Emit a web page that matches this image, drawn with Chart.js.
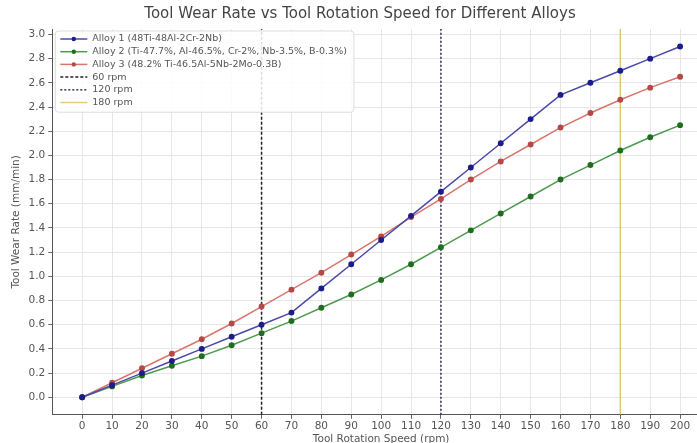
<!DOCTYPE html>
<html>
<head>
<meta charset="utf-8">
<script src="https://cdn.jsdelivr.net/npm/chart.js@4/dist/chart.umd.min.js"></script>
<style>
  html, body { margin: 0; padding: 0; background: #fff; overflow: hidden; }
  #wrap { width: 720px; height: 443px; }
</style>
</head>
<body>
<div id="wrap"><canvas id="wearChart"></canvas></div>
<script>
// data
const rpm = [0, 10, 20, 30, 40, 50, 60, 70, 80, 90, 100, 110, 120, 130, 140, 150, 160, 170, 180, 190, 200];
const alloy1 = [0, 0.1, 0.2, 0.3, 0.4, 0.5, 0.6, 0.7, 0.9, 1.1, 1.3, 1.5, 1.7, 1.9, 2.1, 2.3, 2.5, 2.6, 2.7, 2.8, 2.9];
const alloy2 = [0, 0.09, 0.18, 0.26, 0.34, 0.43, 0.53, 0.63, 0.74, 0.85, 0.97, 1.1, 1.24, 1.38, 1.52, 1.66, 1.8, 1.92, 2.04, 2.15, 2.25];
const alloy3 = [0, 0.12, 0.24, 0.36, 0.48, 0.61, 0.75, 0.89, 1.03, 1.18, 1.33, 1.49, 1.64, 1.8, 1.95, 2.09, 2.23, 2.35, 2.46, 2.56, 2.65];
const refSpeeds = [60, 120, 180];
const xTicks = [0, 10, 20, 30, 40, 50, 60, 70, 80, 90, 100, 110, 120, 130, 140, 150, 160, 170, 180, 190, 200];
const yTicks = [0, 0.2, 0.4, 0.6, 0.8, 1.0, 1.2, 1.4, 1.6, 1.8, 2.0, 2.2, 2.4, 2.6, 2.8, 3.0];
const xRange = [-10, 210];
const yRange = [-0.145, 3.045];

const pts = vals => rpm.map((x, i) => ({ x, y: vals[i] }));
const vline = x => [{ x, y: yRange[0] }, { x, y: yRange[1] }];

const font = 'DejaVu Sans';

// legend drawn inside the plot, top left (matplotlib style)
const innerLegend = {
  id: 'innerLegend',
  afterDraw(chart) {
    const ctx = chart.ctx;
    const area = chart.chartArea;
    const sets = chart.data.datasets;
    const x0 = area.left + 3, y0 = area.top + 2;
    const rowH = 12.7;
    ctx.save();
    ctx.font = '9.5px "' + font + '"';
    let w = 0;
    sets.forEach(d => { w = Math.max(w, ctx.measureText(d.label).width); });
    const boxW = w + 44, boxH = sets.length * rowH + 5;
    ctx.fillStyle = 'rgba(255,255,255,0.85)';
    ctx.strokeStyle = '#dddddd';
    ctx.lineWidth = 1;
    ctx.beginPath();
    ctx.roundRect(x0, y0, boxW, boxH, 3);
    ctx.fill();
    ctx.stroke();
    sets.forEach((d, i) => {
      const cy = y0 + 8 + i * rowH;
      ctx.strokeStyle = d.borderColor;
      ctx.lineWidth = d.borderWidth;
      ctx.setLineDash(d.borderDash || []);
      ctx.beginPath();
      ctx.moveTo(x0 + 5, cy);
      ctx.lineTo(x0 + 32, cy);
      ctx.stroke();
      ctx.setLineDash([]);
      if (d.pointRadius > 0) {
        ctx.fillStyle = d.pointBackgroundColor;
        ctx.beginPath();
        ctx.arc(x0 + 18.5, cy, d.pointRadius, 0, Math.PI * 2);
        ctx.fill();
      }
      ctx.fillStyle = '#555555';
      ctx.textBaseline = 'middle';
      ctx.fillText(d.label, x0 + 37, cy);
    });
    ctx.restore();
  }
};

const alloyStyle = (line, marker) => ({
  borderColor: line,
  backgroundColor: marker,
  pointBackgroundColor: marker,
  pointBorderColor: marker,
  pointRadius: 2.2,
  borderWidth: 1.5,
  tension: 0
});

const refStyle = (color, dash, width) => ({
  borderColor: color,
  backgroundColor: color,
  borderDash: dash,
  borderWidth: width,
  pointRadius: 0,
  tension: 0
});

new Chart(document.getElementById('wearChart'), {
  type: 'line',
  data: {
    datasets: [
      { label: 'Alloy 1 (48Ti-48Al-2Cr-2Nb)', data: pts(alloy1), ...alloyStyle('#4a4aa8', '#1c1c8a') },
      { label: 'Alloy 2 (Ti-47.7%, Al-46.5%, Cr-2%, Nb-3.5%, B-0.3%)', data: pts(alloy2), ...alloyStyle('#4f9a4f', '#1f6e1f') },
      { label: 'Alloy 3 (48.2% Ti-46.5Al-5Nb-2Mo-0.3B)', data: pts(alloy3), ...alloyStyle('#d8776c', '#b54848') },
      { label: refSpeeds[0] + ' rpm', data: vline(refSpeeds[0]), ...refStyle('#222222', [3, 2], 1.5) },
      { label: refSpeeds[1] + ' rpm', data: vline(refSpeeds[1]), ...refStyle('#333344', [2, 2], 1.5) },
      { label: refSpeeds[2] + ' rpm', data: vline(refSpeeds[2]), ...refStyle('rgba(225,190,90,0.8)', [], 1.5) }
    ]
  },
  options: {
    responsive: true,
    maintainAspectRatio: false,
    animation: false,
    layout: { padding: { left: 10, right: 10, top: 0, bottom: -3 } },
    plugins: {
      legend: { display: false },
      tooltip: { enabled: false },
      title: {
        display: true,
        text: 'Tool Wear Rate vs Tool Rotation Speed for Different Alloys',
        color: '#444444',
        font: { family: font, size: 15, weight: 'normal' },
        padding: { top: 5, bottom: 6 }
      }
    },
    scales: {
      x: {
        type: 'linear',
        min: xRange[0],
        max: xRange[1],
        afterBuildTicks: s => { s.ticks = xTicks.map(v => ({ value: v })); },
        ticks: { color: '#555555', font: { family: font, size: 10.5 }, padding: 1, maxRotation: 0, autoSkip: false },
        grid: { color: '#e6e6e6', tickColor: '#666666', tickLength: 4 },
        border: { color: '#555555', width: 1 },
        title: {
          display: true,
          text: 'Tool Rotation Speed (rpm)',
          color: '#555555',
          font: { family: font, size: 10.5 },
          padding: { top: 0, bottom: 0 }
        }
      },
      y: {
        min: yRange[0],
        max: yRange[1],
        afterBuildTicks: s => { s.ticks = yTicks.map(v => ({ value: v })); },
        ticks: { color: '#555555', font: { family: font, size: 10.5 }, padding: 3, callback: v => v.toFixed(1) },
        grid: { color: '#e6e6e6', tickColor: '#666666', tickLength: 4 },
        border: { color: '#555555', width: 1 },
        title: {
          display: true,
          text: 'Tool Wear Rate (mm/min)',
          color: '#555555',
          font: { family: font, size: 10.5 },
          padding: { top: 0, bottom: 3 }
        }
      }
    }
  },
  plugins: [innerLegend]
});
</script>
</body>
</html>
